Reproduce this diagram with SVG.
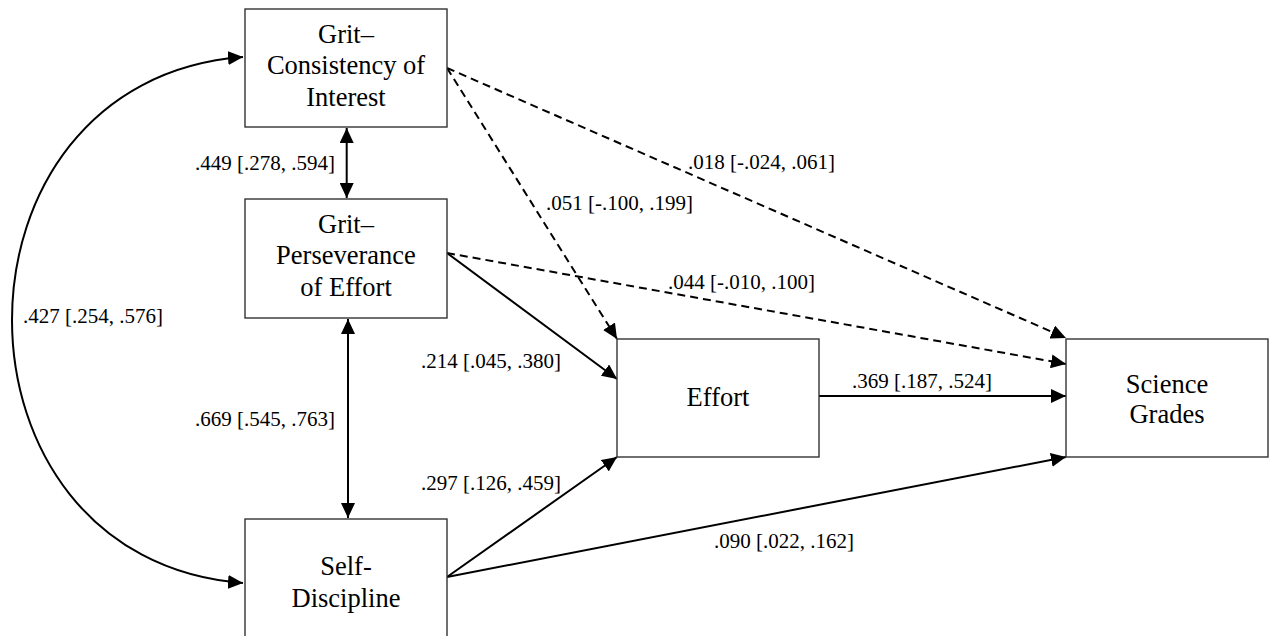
<svg xmlns="http://www.w3.org/2000/svg" width="1273" height="636" viewBox="0 0 1273 636">
<style>
.box{fill:#fff;stroke:#333;stroke-width:1.4}
.nt{font-family:'Liberation Serif',serif;font-size:26.5px;fill:#000;text-anchor:middle}
.lb{font-family:'Liberation Serif',serif;font-size:21px;fill:#000}
.c{fill:none;stroke:#000;stroke-width:2}
.d{stroke-dasharray:8 5}
</style>
<defs>
<marker id="ah" markerUnits="userSpaceOnUse" markerWidth="15" markerHeight="14" refX="15" refY="7" orient="auto-start-reverse" viewBox="0 0 15 14">
<path d="M0,0 L15,7 L0,14 z" fill="#000"/>
</marker>
</defs>
<rect width="1273" height="636" fill="#fff"/>
<g id="connectors">
<path class="c" d="M243,57 C-65,80 -65,560 243,583" marker-start="url(#ah)" marker-end="url(#ah)"/>
<line class="c" x1="346.7" y1="128" x2="346.7" y2="198" marker-start="url(#ah)" marker-end="url(#ah)"/>
<line class="c" x1="348" y1="319" x2="348" y2="518" marker-start="url(#ah)" marker-end="url(#ah)"/>
<line class="c d" x1="447" y1="68" x2="1066" y2="338" marker-end="url(#ah)"/>
<line class="c d" x1="447" y1="68" x2="617" y2="339" marker-end="url(#ah)"/>
<line class="c d" x1="447" y1="253" x2="1066" y2="364" marker-end="url(#ah)"/>
<line class="c" x1="447" y1="253" x2="617" y2="379" marker-end="url(#ah)"/>
<line class="c" x1="819" y1="396" x2="1066" y2="396" marker-end="url(#ah)"/>
<line class="c" x1="447" y1="577" x2="617" y2="457" marker-end="url(#ah)"/>
<line class="c" x1="447" y1="577" x2="1066" y2="457" marker-end="url(#ah)"/>
</g>
<g id="labels" font-family="Liberation Serif, serif">
<text class="lb" x="195" y="170">.449 [.278, .594]</text>
<text class="lb" x="23" y="323">.427 [.254, .576]</text>
<text class="lb" x="195" y="426">.669 [.545, .763]</text>
<text class="lb" x="421" y="368">.214 [.045, .380]</text>
<text class="lb" x="421" y="490">.297 [.126, .459]</text>
<text class="lb" x="546" y="210">.051 [-.100, .199]</text>
<text class="lb" x="688" y="169">.018 [-.024, .061]</text>
<text class="lb" x="668" y="289">.044 [-.010, .100]</text>
<text class="lb" x="852" y="388">.369 [.187, .524]</text>
<text class="lb" x="714" y="548">.090 [.022, .162]</text>
</g>
<g id="node-consistency">
<rect class="box" x="245" y="9" width="202" height="118"/>
<text class="nt" x="346" y="43">Grit–</text>
<text class="nt" x="346" y="74">Consistency of</text>
<text class="nt" x="346" y="106">Interest</text>
</g>
<g id="node-perseverance">
<rect class="box" x="245" y="199" width="202" height="119"/>
<text class="nt" x="346" y="233">Grit–</text>
<text class="nt" x="346" y="264">Perseverance</text>
<text class="nt" x="346" y="296">of Effort</text>
</g>
<g id="node-selfdiscipline">
<rect class="box" x="245" y="519" width="202" height="120"/>
<text class="nt" x="346" y="575">Self-</text>
<text class="nt" x="346" y="607">Discipline</text>
</g>
<g id="node-effort">
<rect class="box" x="617" y="339" width="202" height="118"/>
<text class="nt" x="718" y="406">Effort</text>
</g>
<g id="node-science">
<rect class="box" x="1066" y="339" width="202" height="118"/>
<text class="nt" x="1167" y="393">Science</text>
<text class="nt" x="1167" y="423">Grades</text>
</g>
</svg>
